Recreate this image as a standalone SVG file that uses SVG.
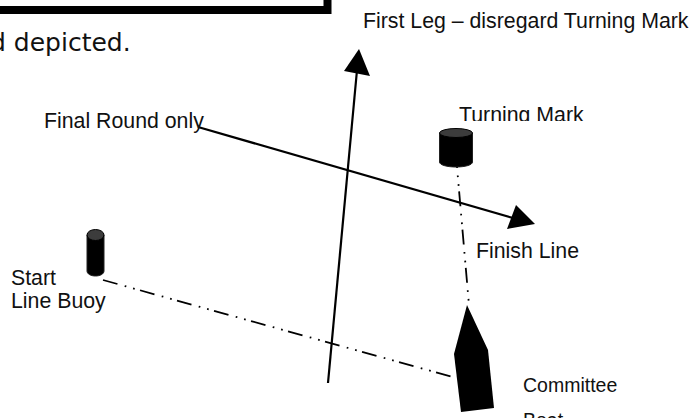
<svg xmlns="http://www.w3.org/2000/svg" width="693" height="418" viewBox="0 0 693 418">
<style>
text{font-family:"Liberation Sans",Arial,sans-serif;font-size:21.300px;fill:#111}
.ln{fill:none;stroke:#000}
.dd{stroke-width:1.800;stroke-dasharray:15 7.500 1.700 7 1.700 5.500}
.cyl{fill:#000;stroke:#222;stroke-width:1}
.top{fill:#3c3c3c;stroke:#000;stroke-width:1}
</style>
<defs><clipPath id="tm"><rect x="440" y="90" width="200" height="31"/></clipPath></defs>
<g id="frame"><path d="M-5 10H327.500V-5" class="ln" stroke-width="8"/></g>
<g id="note"><text x="-10" y="51" style="font-family:'DejaVu Sans',Verdana,sans-serif;font-size:25px">d depicted.</text></g>
<g id="connectors">
<path class="ln dd" d="M103 280L453 377"/>
<path class="ln dd" stroke-dashoffset="14" d="M457 167L469 305"/>
<path class="ln" stroke-width="2.200" d="M328 383L357 70"/>
<path fill="#000" d="M359 49L370 76L344 71Z"/>
<path class="ln" stroke-width="2.200" d="M198 127L513 218"/>
<path fill="#000" d="M535 224L516 205L507 229Z"/>
</g>
<g id="turning-mark">
<path class="cyl" d="M439.500 133V162C439.500 165 447 167 456 167S472.500 165 472.500 162V133Z"/>
<ellipse class="top" cx="456" cy="133" rx="16.500" ry="4.500"/>
<text x="459" y="122" clip-path="url(#tm)">Turning Mark</text>
</g>
<g id="start-buoy">
<path class="cyl" d="M87 235V271C87 274 91 276 95.500 276S104 274 104 271V235Z"/>
<ellipse class="top" cx="95.500" cy="235" rx="8.500" ry="5.500"/>
<text x="11" y="285">Start</text>
<text x="11" y="308">Line Buoy</text>
</g>
<g id="committee-boat">
<path fill="#000" d="M467 305L488 350L494 408L461 412L454 354Z"/>
<text x="523" y="392" style="font-size:19.500px">Committee</text>
<text x="523" y="427" style="font-size:19.500px">Boat</text>
</g>
<g id="labels">
<text x="363" y="28">First Leg – disregard Turning Mark</text>
<text x="44" y="128">Final Round only</text>
<text x="476" y="258">Finish Line</text>
</g>
</svg>
